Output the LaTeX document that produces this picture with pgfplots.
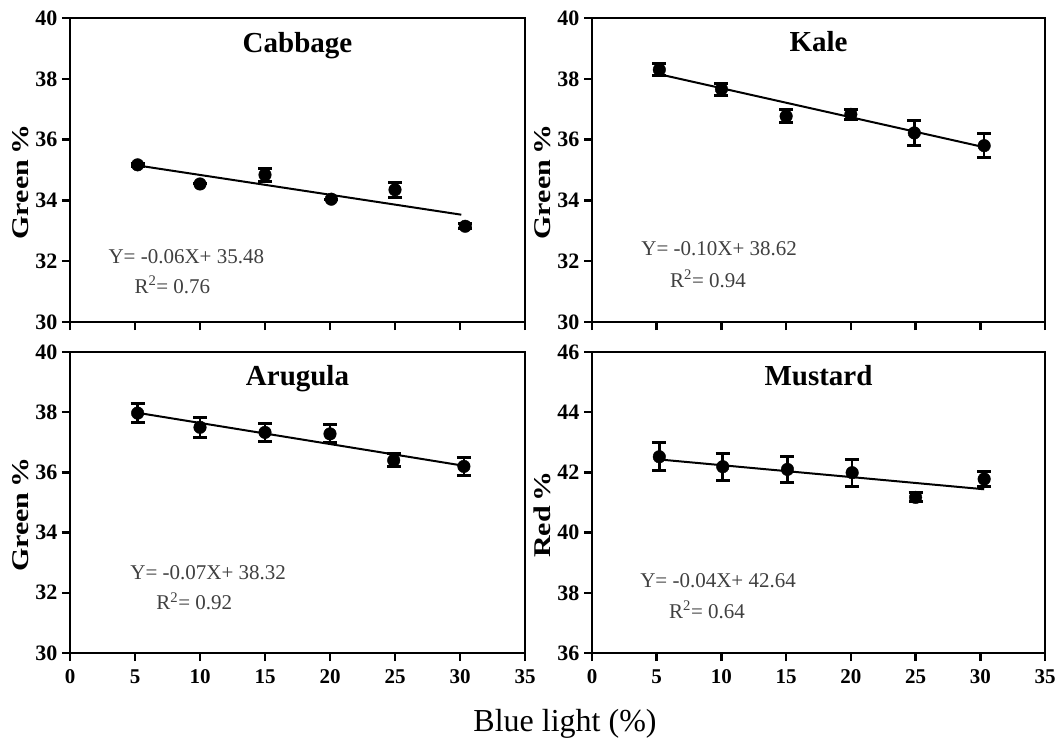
\documentclass[border=0pt]{standalone}
\usepackage{fontspec}
\setmainfont{Liberation Serif}
\usepackage{graphicx}
\usepackage{pgfplots}
\pgfplotsset{compat=1.18}
\definecolor{eqgray}{gray}{0.25}
\tikzset{
  eq/.style={anchor=base west, font=\fontsize{21}{21}\selectfont, text=eqgray},
  ttl/.style={anchor=base, font=\fontsize{29}{29}\selectfont\bfseries},
}
\pgfplotsset{
  panel/.style={
    scale only axis, width=455pt, height=304pt,
    xmin=0, xmax=35, xtick={0,5,...,35},
    axis line style={line width=2.5pt},
    major tick length=8pt,
    every tick/.style={black, line width=2.5pt},
    tick align=outside, xtick pos=bottom, ytick pos=left,
    /pgf/number format/assume math mode=true,
    yticklabel style={font=\fontsize{22}{22}\selectfont\bfseries, xshift=-1pt},
    xticklabel style={font=\fontsize{21}{21}\selectfont\bfseries, yshift=-5pt},
    ylabel style={font=\fontsize{24}{24}\selectfont\bfseries, at={(ticklabel cs:0.46)}},
    clip=false,
  },
  pts/.style={only marks, mark=*, mark size=6.3pt, black,
    error bars/.cd, y dir=both, y explicit,
    error bar style={line width=2.5pt, black},
    error mark options={rotate=90, mark size=7pt, line width=3pt, black}},
  fit/.style={no marks, black, line width=2pt},
}
\begin{document}
\begin{tikzpicture}
\path[use as bounding box] (0,0) rectangle (1056pt,-740pt);

% Cabbage
\begin{axis}[panel, at={(70pt,-18pt)}, anchor=north west,
  ymin=30, ymax=40, ytick={30,32,...,40}, xticklabels={},
  ylabel={\scalebox{1.25}[1]{Green\,\%}}]
\addplot[fit] coordinates {(5.2,35.15) (30.1,33.53)};
\addplot[pts] coordinates {
 (5.2,35.17) +- (0,0.05)
 (10,34.54) +- (0,0)
 (15,34.84) +- (0,0.22)
 (20.1,34.04) +- (0,0)
 (25,34.35) +- (0,0.25)
 (30.4,33.15) +- (0,0.08)
};
\node[eq] at (axis cs:2.69,31.94) {Y= -0.06X+ 35.48};
\node[eq] at (axis cs:4.69,30.95) {R\textsuperscript{2}= 0.76};
\node[ttl] at (axis description cs:0.5,0.885) {Cabbage};
\end{axis}

% Kale
\begin{axis}[panel, at={(592pt,-18pt)}, anchor=north west, width=453pt,
  ymin=30, ymax=40, ytick={30,32,...,40}, xticklabels={},
  ylabel={\scalebox{1.25}[1]{Green\,\%}}]
\addplot[fit] coordinates {(5.2,38.15) (30.3,35.75)};
\addplot[pts] coordinates {
 (5.2,38.3) +- (0,0.2)
 (10,37.66) +- (0,0.2)
 (15,36.77) +- (0,0.22)
 (20,36.83) +- (0,0.17)
 (24.9,36.22) +- (0,0.42)
 (30.3,35.8) +- (0,0.4)
};
\node[eq] at (axis cs:3.54,32.19) {Y= -0.10X+ 38.62};
\node[eq] at (axis cs:5.77,31.14) {R\textsuperscript{2}= 0.94};
\node[ttl] at (axis description cs:0.5,0.89) {Kale};
\end{axis}

% Arugula
\begin{axis}[panel, at={(70pt,-352pt)}, anchor=north west, height=301pt,
  ymin=30, ymax=40, ytick={30,32,...,40},
  ylabel={\scalebox{1.25}[1]{Green\,\%}}]
\addplot[fit] coordinates {(5.2,37.98) (30.3,36.22)};
\addplot[pts] coordinates {
 (5.2,37.97) +- (0,0.32)
 (10,37.5) +- (0,0.33)
 (15,37.33) +- (0,0.3)
 (20,37.28) +- (0,0.3)
 (24.9,36.4) +- (0,0.22)
 (30.3,36.2) +- (0,0.3)
};
\node[eq] at (axis cs:4.38,32.43) {Y= -0.07X+ 38.32};
\node[eq] at (axis cs:6.38,31.43) {R\textsuperscript{2}= 0.92};
\node[ttl] at (axis description cs:0.5,0.89) {Arugula};
\end{axis}

% Mustard
\begin{axis}[panel, at={(592pt,-352pt)}, anchor=north west, width=453pt, height=301pt,
  ymin=36, ymax=46, ytick={36,38,...,46},
  ylabel={\scalebox{1.25}[1]{Red\,\%}}]
\addplot[fit] coordinates {(5.2,42.43) (30.3,41.44)};
\addplot[pts] coordinates {
 (5.2,42.52) +- (0,0.47)
 (10.1,42.19) +- (0,0.45)
 (15.1,42.1) +- (0,0.42)
 (20.1,41.99) +- (0,0.45)
 (25,41.17) +- (0,0.15)
 (30.3,41.78) +- (0,0.25)
};
\node[eq] at (axis cs:3.46,38.19) {Y= -0.04X+ 42.64};
\node[eq] at (axis cs:5.69,37.16) {R\textsuperscript{2}= 0.64};
\node[ttl] at (axis description cs:0.5,0.89) {Mustard};
\end{axis}

\node[anchor=base, font=\fontsize{32}{32}\selectfont] at (565pt,-731pt) {Blue light (\%)};
\end{tikzpicture}
\end{document}
